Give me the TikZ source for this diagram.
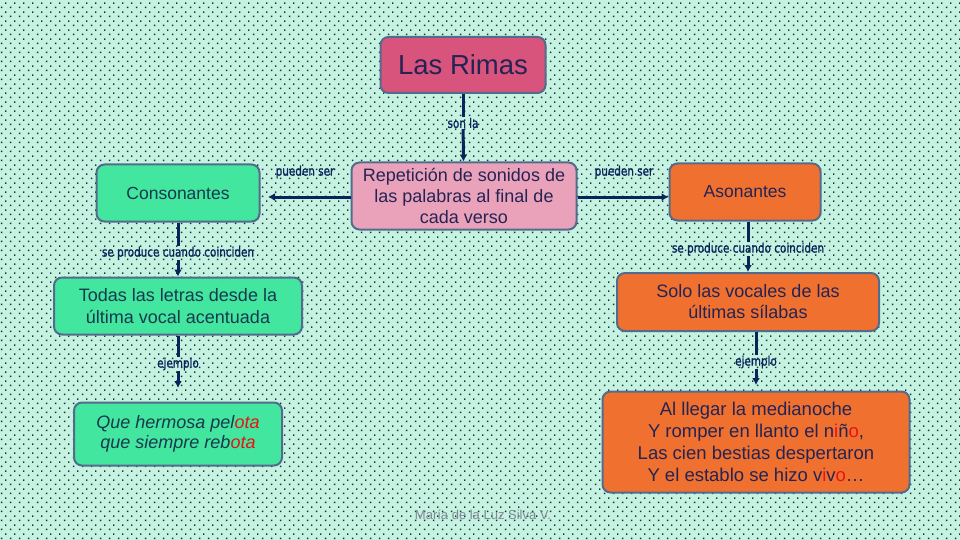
\documentclass[tikz,border=0pt]{standalone}
\usepackage{fontspec}
\setmainfont{Liberation Sans}
\newfontfamily\linkfont[FakeStretch=0.8,FakeBold=1.2]{DejaVu Sans}
\usepackage{tikz}
\usetikzlibrary{arrows.meta, positioning, patterns}
\usepackage{xcolor}
\definecolor{bgmint}{RGB}{198, 242, 226}
\definecolor{dotcol}{RGB}{20, 50, 50}
\definecolor{rimas}{RGB}{216, 84, 124}
\definecolor{repet}{RGB}{234, 162, 186}
\definecolor{conso}{RGB}{66, 230, 158}
\definecolor{asona}{RGB}{240, 112, 48}
\definecolor{edge}{RGB}{84, 108, 140}
\definecolor{ink}{RGB}{36, 36, 84}
\definecolor{inkg}{RGB}{24, 56, 80}
\definecolor{linkc}{RGB}{10, 36, 90}
\definecolor{rima}{RGB}{230, 20, 20}
\definecolor{firma}{RGB}{128, 136, 150}
\pgfdeclarepatternformonly{bgdots}{\pgfpointorigin}{\pgfpoint{8.6pt}{8.6pt}}{\pgfpoint{8.6pt}{8.6pt}}{%
  \pgfpathrectangle{\pgfpoint{1pt}{1pt}}{\pgfpoint{1.5pt}{1.5pt}}%
  \pgfpathrectangle{\pgfpoint{5.3pt}{5.3pt}}{\pgfpoint{1.5pt}{1.5pt}}%
  \pgfusepath{fill}}

\begin{document}
\begin{tikzpicture}[
        x=1pt, y=-1pt,
        block/.style={rectangle, rounded corners=8pt, draw=edge, line width=2pt,
                      align=center, text=ink, font=\fontsize{18}{21}\selectfont,
                      inner sep=0pt},
        linklabel/.style={font=\linkfont\fontsize{13}{15}\selectfont, text=linkc, inner sep=1pt},
        link/.style={draw=linkc, line width=3pt},
        arrow/.style={link, -{Latex[length=7pt, width=8pt]}},
    ]
        \fill[bgmint] (0,0) rectangle (960,540);
        \fill[pattern=bgdots, pattern color=dotcol] (0,0) rectangle (960,540);
        \useasboundingbox (0,0) rectangle (960,540);

        \node[block, fill=rimas, minimum width=165pt, minimum height=56pt,
              font=\fontsize{27.5}{30}\selectfont] (rimas) at (463,65) {Las Rimas};
        \node[block, fill=repet, minimum width=225pt, minimum height=67pt] (repet) at (464,196)
            {Repetición de sonidos de\\las palabras al final de\\cada verso};
        \node[block, fill=conso, text=inkg, minimum width=163pt, minimum height=57pt,
              font=\fontsize{17.5}{21}\selectfont] (conso) at (178,193) {Consonantes};
        \node[block, fill=asona, minimum width=151pt, minimum height=57pt,
              font=\fontsize{17.5}{21}\selectfont] (asona) at (745,192) {Asonantes};
        \node[block, fill=conso, text=inkg, minimum width=248pt, minimum height=57pt,
              font=\fontsize{18}{22}\selectfont] (todas) at (178,306)
            {Todas las letras desde la\\última vocal acentuada};
        \node[block, fill=asona, minimum width=262pt, minimum height=58pt] (solo) at (748,302)
            {Solo las vocales de las\\últimas sílabas};
        \node[block, fill=conso, text=inkg, minimum width=208pt, minimum height=63pt,
              font=\itshape\fontsize{18}{20}\selectfont] (pelota) at (178,434)
            {Que hermosa pel\textcolor{rima}{ota}\\que siempre reb\textcolor{rima}{ota}};
        \node[block, fill=asona, minimum width=307pt, minimum height=101pt,
              font=\fontsize{18.5}{22}\selectfont] (poema) at (756,442)
            {Al llegar la medianoche\\Y romper en llanto el n\textcolor{rima}{i}ñ\textcolor{rima}{o},\\Las cien bestias despertaron\\Y el establo se hizo v\textcolor{rima}{i}v\textcolor{rima}{o}…};

        \node[linklabel] (sonla) at (463,123) {son la};
        \node[linklabel] (pscons) at (305,172) {pueden ser};
        \node[linklabel] (psason) at (624,172) {pueden ser};
        \node[linklabel] (coincons) at (178,253) {se produce cuando coinciden};
        \node[linklabel] (coinason) at (748,249) {se produce cuando coinciden};
        \node[linklabel] (ejcons) at (178,364) {ejemplo};
        \node[linklabel] (ejason) at (756,362) {ejemplo};
        \node[text=firma, font=\fontsize{13}{15}\selectfont] (autor) at (483,515) {María de la Luz Silva V.};

        \coordinate (conend) at (268,197);
        \coordinate (ejcend) at (178,388);
        \coordinate (ejaend) at (756,385);

        \draw[link] (rimas) -- (sonla);
        \draw[arrow] (sonla) -- (repet);
        \draw[arrow] (repet.west |- conend) -- (conend);
        \draw[arrow] (repet.east |- conend) -- (asona.west |- conend);
        \draw[link] (conso) -- (coincons);
        \draw[arrow] (coincons) -- (todas);
        \draw[link] (asona.south -| solo) -- (coinason);
        \draw[arrow] (coinason) -- (solo);
        \draw[link] (todas) -- (ejcons);
        \draw[arrow] (ejcons) -- (ejcend);
        \draw[link] (solo.south -| ejason) -- (ejason);
        \draw[arrow] (ejason) -- (ejaend);

    \end{tikzpicture}
\end{document}
